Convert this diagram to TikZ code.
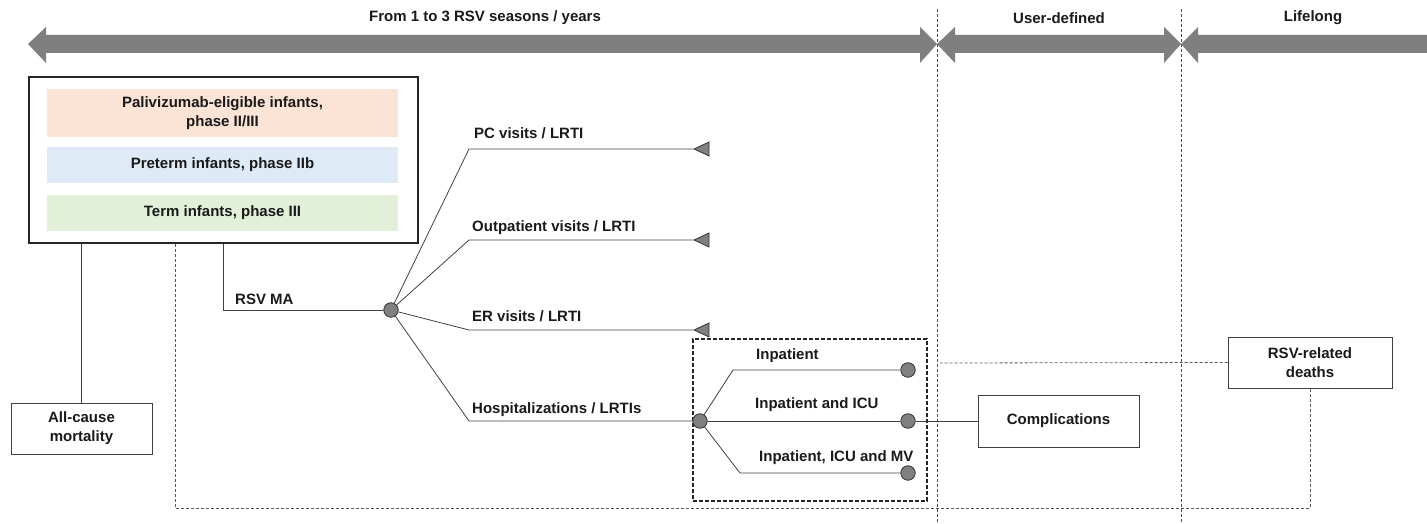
\documentclass[tikz,border=0pt]{standalone}
\usepackage{fontspec}
\setmainfont{Liberation Sans}
\usetikzlibrary{shapes.geometric}
\definecolor{barO}{HTML}{FBE3D6}
\definecolor{barB}{HTML}{DEEBF7}
\definecolor{barG}{HTML}{E2F0D9}
\definecolor{arr}{HTML}{7F7F7F}
\definecolor{ink}{HTML}{1A1A1A}
\begin{document}
\begin{tikzpicture}[x=1pt,y=-1pt,
  lbl/.style={font=\fontsize{15}{19}\selectfont\bfseries, inner sep=0pt, text=ink},
  box/.style={lbl, draw=black!75, line width=0.9pt, fill=white, align=center},
  bar/.style={lbl, align=center, minimum width=351pt},
  dot/.style={circle, draw=black!80, fill=black!50, line width=0.8pt, minimum size=14.5pt, inner sep=0pt},
  tri/.style={isosceles triangle, shape border rotate=180, isosceles triangle stretches, minimum width=14pt, minimum height=15pt, inner sep=0pt, draw=black!80, fill=black!50, line width=0.8pt},
  ln/.style={draw=black!75, line width=0.8pt},
  dotl/.style={draw=black!65, line width=0.8pt, dash pattern=on 3pt off 2pt},
  divl/.style={draw=black!70, line width=0.7pt, dash pattern=on 3pt off 2pt},
  grpbox/.style={draw=black!85, line width=1.1pt, dash pattern=on 4pt off 2pt, inner sep=0pt}
]
\useasboundingbox (0,0) rectangle (1427,524);

% timeline arrows
\fill[arr] (28,44) -- (46,27) -- (46,35) -- (920,35) -- (920,27) -- (937,44) -- (920,63) -- (920,53) -- (46,53) -- (46,63) -- cycle;
\fill[arr] (937,44) -- (955,27) -- (955,35) -- (1164,35) -- (1164,27) -- (1181,44) -- (1164,63) -- (1164,53) -- (955,53) -- (955,63) -- cycle;
\fill[arr] (1181,44) -- (1198,27) -- (1198,35) -- (1427,35) -- (1427,53) -- (1198,53) -- (1198,63) -- cycle;

% dividers
\draw[divl] (937,9) -- (937,524);
\draw[divl] (1181,9) -- (1181,524);

% period labels
\node[lbl] (p1) at (485,18) {From 1 to 3 RSV seasons / years};
\node[lbl] (p2) at (1059,18) {User-defined};
\node[lbl] (p3) at (1313,18) {Lifelong};

% population box
\node[draw=black!85, line width=1.1pt, minimum width=389pt, minimum height=166pt, inner sep=0pt] (pop) at (223.5,160) {};
\node[bar, fill=barO, minimum height=48pt] (b1) at (222.5,113) {Palivizumab-eligible infants,\\phase II/III};
\node[bar, fill=barB, minimum height=36pt] (b2) at (222.5,165) {Preterm infants, phase IIb};
\node[bar, fill=barG, minimum height=36pt] (b3) at (222.5,213) {Term infants, phase III};

% outcome boxes
\node[box, minimum width=141pt, minimum height=51pt] (mort) at (81.5,428.5) {All-cause\\mortality};
\node[box, minimum width=161pt, minimum height=52pt] (comp) at (1058.5,421) {Complications};
\node[box, minimum width=164pt, minimum height=51pt] (death) at (1310,362.5) {RSV-related\\deaths};

% hospital group box
\node[grpbox, minimum width=234pt, minimum height=162pt] (grp) at (810,420) {};

% chance nodes and terminals
\node[dot] (c1) at (391,310) {};
\node[dot] (c2) at (700,421) {};
\node[dot] (e1) at (908,370) {};
\node[dot] (e2) at (908,421) {};
\node[dot] (e3) at (908,473) {};
\node[tri, anchor=apex] (t1) at (693,149) {};
\node[tri, anchor=apex] (t2) at (693,240) {};
\node[tri, anchor=apex] (t3) at (693,330) {};

% bend coordinates
\coordinate (kx) at (469,0);
\coordinate (ma) at (223,310);
\coordinate (dl) at (175,508);
\coordinate (i1) at (733,370);
\coordinate (i3) at (740,473);
\coordinate (dd) at (940,363);

% connectors
\draw[ln] (pop.south -| mort.north) -- (mort.north);
\draw[ln] (pop.south -| ma) -- (ma) -- (c1);
\draw[ln] (c1) -- (t1.apex -| kx) -- (t1.apex);
\draw[ln] (c1) -- (t2.apex -| kx) -- (t2.apex);
\draw[ln] (c1) -- (t3.apex -| kx) -- (t3.apex);
\draw[ln] (c1) -- (c2 -| kx) -- (c2);
\draw[ln] (c2) -- (i1) -- (e1);
\draw[ln] (c2) -- (e2);
\draw[ln] (c2) -- (i3) -- (e3);
\draw[ln] (e2) -- (comp.west);
\draw[dotl] (pop.south -| dl) -- (dl) -| (death.south);
\draw[dotl] (death.west) -- (dd);

% branch labels
\node[lbl, anchor=base west] (l0) at (235,304) {RSV MA};
\node[lbl, anchor=base west] (l1) at (474,139) {PC visits / LRTI};
\node[lbl, anchor=base west] (l2) at (472,231) {Outpatient visits / LRTI};
\node[lbl, anchor=base west] (l3) at (472,321) {ER visits / LRTI};
\node[lbl, anchor=base west] (l4) at (472,413) {Hospitalizations / LRTIs};
\node[lbl, anchor=base west] (l5) at (756,359) {Inpatient};
\node[lbl, anchor=base west] (l6) at (755,408) {Inpatient and ICU};
\node[lbl, anchor=base west] (l7) at (759,461) {Inpatient, ICU and MV};
\end{tikzpicture}
\end{document}
